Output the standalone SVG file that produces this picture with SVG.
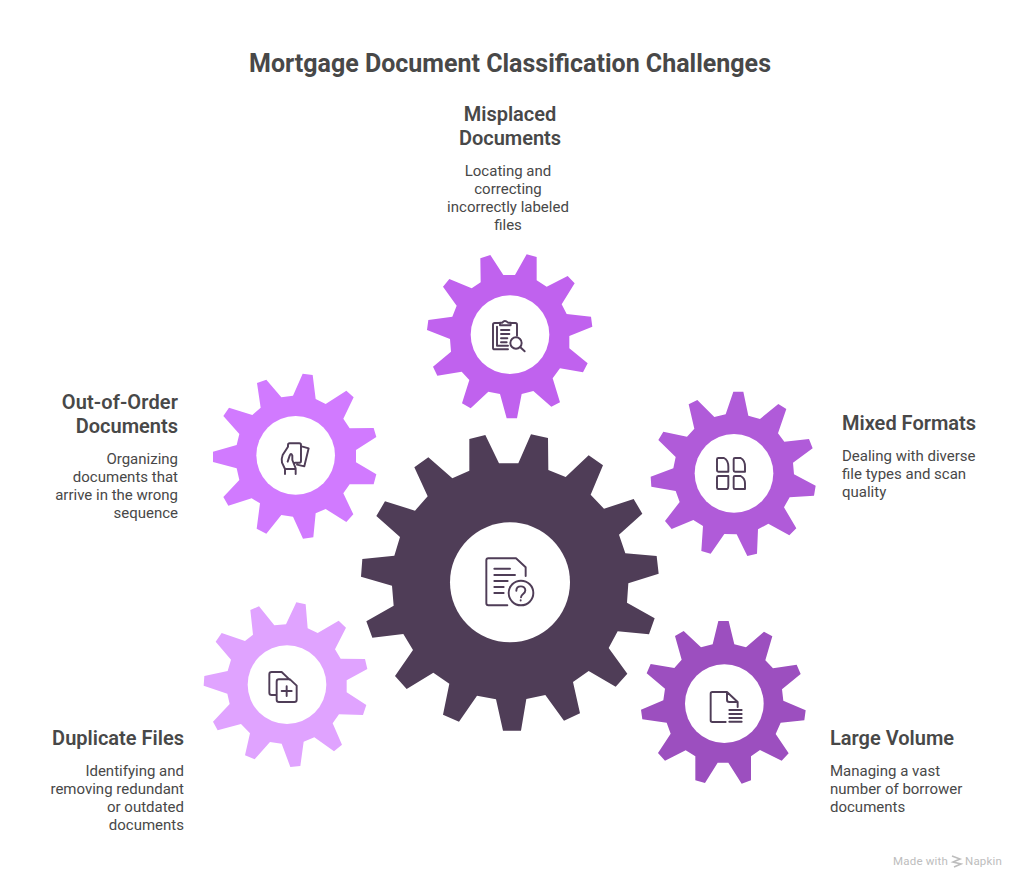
<svg xmlns="http://www.w3.org/2000/svg" width="1020" height="882" viewBox="0 0 1020 882">
<style>
text{font-family:Roboto,"Liberation Sans",sans-serif;fill:#484848}
.t{font-size:25px;font-weight:700}
.h{font-size:20px;font-weight:600}
.b{font-size:15px}
.m{text-anchor:middle}
.e{text-anchor:end}
.i{fill:none;stroke:#4f3d57;stroke-width:5.800;stroke-linecap:round;stroke-linejoin:round}
.w{fill:#fff}
</style>
<rect width="1020" height="882" fill="#fff"/>
<text class="t m" x="510" y="71.500">Mortgage Document Classification Challenges</text>
<g id="connectors"/>
<g id="center" transform="translate(350 420) scale(.33333)">
<polygon fill="#4f3d57" points="358,57 406,45 447,130 505,130 543,43 594,54 595,150 647,171 716,106 759,136 722,224 762,266 851,237 877,281 807,344 826,400 920,408 926,461 835,490 831,548 914,595 897,643 803,634 776,684 832,761 797,800 716,753 669,786 690,880 642,902 586,825 529,837 513,932 459,932 438,838 381,827 327,905 279,884 298,791 250,758 170,807 135,768 189,690 160,642 67,653 49,604 131,557 126,497 33,470 37,417 133,407 150,351 79,288 105,244 195,272 233,229 193,142 235,112 307,175 358,152"/>
<circle class="w" cx="480" cy="487" r="180"/>
<path class="i" d="M472,556H415Q409,556 409,550V421Q409,415 415,415H498L527,442V468M433,446H480M433,465H495M433,483H473M433,501H461M433,519H461"/>
<circle class="i" cx="513" cy="519" r="37"/>
<path class="i" d="M499,512C499,495 526,495 526,511C526,522 513,522 513,532M512,541V541.500"/>
</g>
<g id="misplaced">
<g transform="translate(420 245) scale(.33333)">
<polygon fill="#c062ee" points="181,40 211,30 250,90 285,90 320,28 350,36 350,106 380,125 443,93 464,115 425,178 440,207 513,215 517,245 448,273 448,310 503,355 489,382 420,370 398,400 420,472 394,485 340,438 305,447 291,520 260,520 240,447 205,440 152,490 126,475 148,405 125,380 52,392 39,365 93,320 90,282 21,255 25,225 97,215 110,182 69,125 88,102 155,130 182,112"/>
<circle class="w" cx="270" cy="269" r="118"/>
<path class="i" d="M264,313H224Q219,313 219,308V239Q219,234 224,234H240M272,234H286Q291,234 291,239V272M240,241V233H247Q254,223 264,233H272V241ZM231,245V302H264M243,255H268M243,267H268M243,280H262M243,292H260"/>
<circle class="i" cx="288" cy="294" r="17"/>
<path class="i" d="M301,307L314,319"/>
</g>
<text class="h m" x="510" y="121">Misplaced</text>
<text class="h m" x="510" y="145">Documents</text>
<text class="b m" x="508" y="176">Locating and</text>
<text class="b m" x="508" y="194">correcting</text>
<text class="b m" x="508" y="212">incorrectly labeled</text>
<text class="b m" x="508" y="230">files</text>
</g>
<g id="out-of-order">
<g transform="translate(205 365) scale(.33333)">
<polygon fill="#d17aff" points="156,54 184,44 229,97 264,92 293,26 323,30 332,102 362,117 424,77 446,97 415,161 434,190 506,189 514,216 453,255 453,292 514,328 506,358 434,358 415,385 445,448 424,471 362,432 332,445 325,517 294,521 264,455 229,450 184,506 155,491 165,415 140,400 70,422 55,396 103,345 95,310 24,291 24,260 95,240 103,207 55,153 72,128 142,150 167,128"/>
<circle class="w" cx="272" cy="271" r="118"/>
<path class="i" d="M240,327V312L231,293Q229,280 233,270L249,245V240Q249,235 254,235H283Q288,235 288,240V288Q288,293 283,293H270M272,327V310L262,285V272Q258,262 254,272L248,290M290,244L311,250L298,304L276,299M240,312H272"/>
</g>
<text class="h e" x="178" y="409" style="letter-spacing:.12px">Out-of-Order</text>
<text class="h e" x="178" y="433">Documents</text>
<text class="b e" x="178" y="464">Organizing</text>
<text class="b e" x="178" y="482">documents that</text>
<text class="b e" x="178" y="500">arrive in the wrong</text>
<text class="b e" x="178" y="518">sequence</text>
</g>
<g id="mixed-formats">
<g transform="translate(645 385) scale(.33333)">
<polygon fill="#b05bd9" points="131,58 157,45 208,96 242,88 265,20 295,20 310,92 345,102 400,57 424,72 399,145 418,170 492,162 503,190 444,233 447,268 512,302 507,332 434,337 417,367 454,430 433,451 370,416 339,433 336,506 307,513 275,448 238,447 197,506 169,498 174,423 145,405 80,432 60,408 104,351 92,318 19,305 17,275 85,250 92,216 40,165 55,140 126,155 148,131"/>
<circle class="w" cx="267" cy="265" r="118"/>
<path class="i" d="M220,219H237Q250,226 250,245V260H220Q216,260 216,256V223Q216,219 220,219ZM270,219H287Q300,226 300,245V260H270Q266,260 266,256V223Q266,219 270,219ZM220,273H250V300Q250,312 246,312H220Q216,312 216,308V277Q216,273 220,273ZM270,273H287Q300,280 300,295V312H270Q266,312 266,308V277Q266,273 270,273Z"/>
</g>
<text class="h" x="842" y="430">Mixed Formats</text>
<text class="b" x="842" y="461">Dealing with diverse</text>
<text class="b" x="842" y="479">file types and scan</text>
<text class="b" x="842" y="497">quality</text>
</g>
<g id="duplicate-files">
<g transform="translate(195 595) scale(.33333)">
<polygon fill="#e0a3ff" points="166,45 192,34 238,91 273,88 304,22 332,28 338,100 368,114 431,77 453,98 420,163 437,191 510,192 517,222 455,256 455,292 514,330 504,360 432,358 413,385 441,449 417,469 358,427 326,440 316,513 286,516 260,446 225,441 179,493 150,481 165,415 138,387 68,406 54,380 104,327 97,296 26,272 28,243 98,228 108,194 62,140 80,114 150,138 174,119"/>
<circle class="w" cx="276" cy="269" r="118"/>
<path class="i" d="M245,300H230Q223,300 223,293V238Q223,231 230,231H260L284,254M252,253H285L305,272V314Q305,321 298,321H252Q245,321 245,314V260Q245,253 252,253ZM275,274V303M260,288H290"/>
</g>
<text class="h e" x="184" y="745">Duplicate Files</text>
<text class="b e" x="184" y="776">Identifying and</text>
<text class="b e" x="184" y="794">removing redundant</text>
<text class="b e" x="184" y="812">or outdated</text>
<text class="b e" x="184" y="830">documents</text>
</g>
<g id="large-volume">
<g transform="translate(635 612) scale(.33333)">
<polygon fill="#9c4fbf" points="120,72 146,57 198,106 233,97 250,27 281,27 298,97 333,106 387,59 412,73 391,145 414,169 485,158 497,186 441,232 445,266 512,295 508,325 437,332 422,366 461,424 440,446 375,414 348,433 348,505 320,515 280,452 248,452 210,513 181,505 181,433 152,415 90,446 69,423 107,365 95,332 22,322 18,293 85,265 90,230 35,184 47,156 118,168 140,143"/>
<circle class="w" cx="268" cy="275" r="118"/>
<path class="i" d="M272,330H232Q227,330 227,325V245Q227,240 232,240H276L308,270V285M276,240V263Q276,270 283,270H308M283,294H320M283,306H320M283,318H320M283,329H320"/>
</g>
<text class="h" x="830" y="745">Large Volume</text>
<text class="b" x="830" y="776">Managing a vast</text>
<text class="b" x="830" y="794">number of borrower</text>
<text class="b" x="830" y="812">documents</text>
</g>
<g id="watermark">
<text x="893" y="865" style="font-size:11.500px;fill:#bdbdbd;letter-spacing:.2px">Made with</text>
<path d="M952,856L960,859L953,862L961,864L954,867" fill="none" stroke="#bdbdbd" stroke-width="1.600"/>
<text x="965" y="865" style="font-size:11.500px;fill:#bdbdbd;letter-spacing:.2px">Napkin</text>
</g>
</svg>
